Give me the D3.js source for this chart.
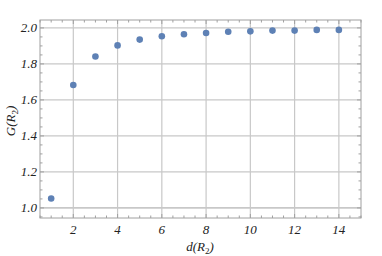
<!DOCTYPE html>
<html><head><meta charset="utf-8">
<script src="https://cdn.jsdelivr.net/npm/d3@7"></script>
<style>body{margin:0;background:#fff}svg{display:block}</style>
</head><body>
<script>
const dValues = [1,2,3,4,5,6,7,8,9,10,11,12,13,14];
const gValues = [1.052,1.683,1.841,1.903,1.935,1.954,1.965,1.972,1.979,1.981,1.985,1.985,1.989,1.989];
const xTicks = [2,4,6,8,10,12,14];
const yTicks = [1.0,1.2,1.4,1.6,1.8,2.0];

const W=382,H=256;
const svg=d3.select("body").append("svg").attr("width",W).attr("height",H);
const L=40,R=361,T=20,B=218;
const x=d3.scaleLinear().domain([0.495,15.0]).range([L,R]);
const y=d3.scaleLinear().domain([0.944,2.044]).range([B,T]);

// grid
svg.append("g").selectAll("line").data(xTicks).join("line")
  .attr("x1",d=>x(d)).attr("x2",d=>x(d)).attr("y1",T).attr("y2",B)
  .attr("stroke","#c8c8c8").attr("stroke-width",1.2);
svg.append("g").selectAll("line").data(yTicks).join("line")
  .attr("x1",L).attr("x2",R).attr("y1",d=>y(d)).attr("y2",d=>y(d))
  .attr("stroke","#c8c8c8").attr("stroke-width",d=>d===1.0?1.8:1.2);

// frame
svg.append("rect").attr("x",L).attr("y",T).attr("width",R-L).attr("height",B-T)
  .attr("fill","none").attr("stroke","#a0a0a0").attr("stroke-width",1);

const xMinor=d3.range(0.5,15.01,0.5).filter(v=>v>=0.5);
const yMinor=d3.range(0.95,2.041,0.05);
const tickCol="#a0a0a0";
// x ticks
const gx=svg.append("g");
xMinor.forEach(v=>{
  const major=Math.abs(v/2-Math.round(v/2))<1e-6;
  const len=major?4:2.5;
  gx.append("line").attr("x1",x(v)).attr("x2",x(v)).attr("y1",B).attr("y2",B-len).attr("stroke",tickCol);
  gx.append("line").attr("x1",x(v)).attr("x2",x(v)).attr("y1",T).attr("y2",T+len).attr("stroke",tickCol);
});
yMinor.forEach(v=>{
  const major=Math.abs(v/0.2-Math.round(v/0.2))<1e-6;
  const len=major?4:2.5;
  gx.append("line").attr("x1",L).attr("x2",L+len).attr("y1",y(v)).attr("y2",y(v)).attr("stroke",tickCol);
  gx.append("line").attr("x1",R).attr("x2",R-len).attr("y1",y(v)).attr("y2",y(v)).attr("stroke",tickCol);
});

const font="'Liberation Serif','Times New Roman',serif";
svg.append("g").selectAll("text").data(xTicks).join("text")
  .attr("x",d=>x(d)).attr("y",B+16).attr("text-anchor","middle")
  .attr("font-family",font).attr("font-style","italic").attr("font-size",13).attr("fill","#222")
  .text(d=>d);
svg.append("g").selectAll("text").data(yTicks).join("text")
  .attr("x",L-3).attr("y",d=>y(d)+4.5).attr("text-anchor","end")
  .attr("font-family",font).attr("font-style","italic").attr("font-size",13).attr("fill","#222")
  .text(d=>d.toFixed(1));

// axis labels
const xl=svg.append("text").attr("x",200).attr("y",251).attr("text-anchor","middle")
  .attr("font-family",font).attr("font-style","italic").attr("font-size",13).attr("fill","#222");
xl.append("tspan").text("d(");
xl.append("tspan").text("R");
xl.append("tspan").attr("font-size",9).attr("font-style","normal").attr("dy",3).text("2");
xl.append("tspan").attr("dy",-3).text(")");

const yl=svg.append("text").attr("transform","translate(15,121) rotate(-90)").attr("text-anchor","middle")
  .attr("font-family",font).attr("font-style","italic").attr("font-size",13).attr("fill","#222");
yl.append("tspan").text("G(");
yl.append("tspan").text("R");
yl.append("tspan").attr("font-size",9).attr("font-style","normal").attr("dy",3).text("2");
yl.append("tspan").attr("dy",-3).text(")");

// points
svg.append("g").selectAll("circle").data(dValues).join("circle")
  .attr("cx",d=>x(d)).attr("cy",(d,i)=>y(gValues[i])).attr("r",3.3)
  .attr("fill","#5e81b5");
</script>
</body></html>
